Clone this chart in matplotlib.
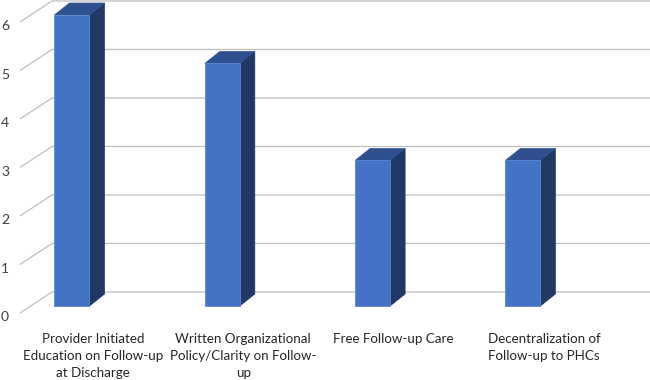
import matplotlib
matplotlib.use("Agg")
import matplotlib.pyplot as plt
from matplotlib.patches import Polygon, Rectangle

categories = ["Provider Initiated\nEducation on Follow-up\nat Discharge",
              "Written Organizational\nPolicy/Clarity on Follow-\nup",
              "Free Follow-up Care",
              "Decentralization of\nFollow-up to PHCs"]
values = [6, 5, 3, 3]
yticks = [0, 1, 2, 3, 4, 5, 6]

plt.rcParams['font.family'] = ['Lato', 'DejaVu Sans']

fig = plt.figure(figsize=(6.5, 3.8), dpi=100)
ax = fig.add_axes([0, 0, 1, 1])
ax.set_xlim(-0.479, 3.846)
ax.set_ylim(-1.526, 6.309)
ax.axis('off')

# 3d-ish offsets (data units)
wall_x0, wall_x1 = -0.346, -0.133
wall_dy0, wall_dy1 = -0.144, 0.289
bar_w = 0.233
dx, dy = 0.10, 0.247

front = '#4472C4'
side = '#1F3864'
top = '#2E5090'
grid_c = '#BFBFBF'

for v in yticks:
    ax.plot([wall_x0, wall_x1, 3.9], [v + wall_dy0, v + wall_dy1, v + wall_dy1],
            color=grid_c, lw=0.9, zorder=1, solid_capstyle='butt')
    ax.text(-0.446, v - 0.23, str(v), ha='center', va='center',
            fontsize=10, color='#404040')

for i, v in enumerate(values):
    l, r = i - bar_w / 2, i + bar_w / 2
    ax.add_patch(Polygon([(r, 0), (r + dx, dy), (r + dx, v + dy), (r, v)],
                         closed=True, facecolor=side, edgecolor=side, lw=0.5, zorder=3))
    ax.add_patch(Polygon([(l, v), (r, v), (r + dx, v + dy), (l + dx, v + dy)],
                         closed=True, facecolor=top, edgecolor=top, lw=0.5, zorder=3))
    ax.add_patch(Rectangle((l, 0), bar_w, v, facecolor=front,
                           edgecolor='#5B86D3', lw=0.6, zorder=4))
    ax.text(i + 0.14, -0.55, categories[i], ha='center', va='top',
            fontsize=9.6, color='#262626', linespacing=1.5)

fig.savefig('out.png', dpi=100)
